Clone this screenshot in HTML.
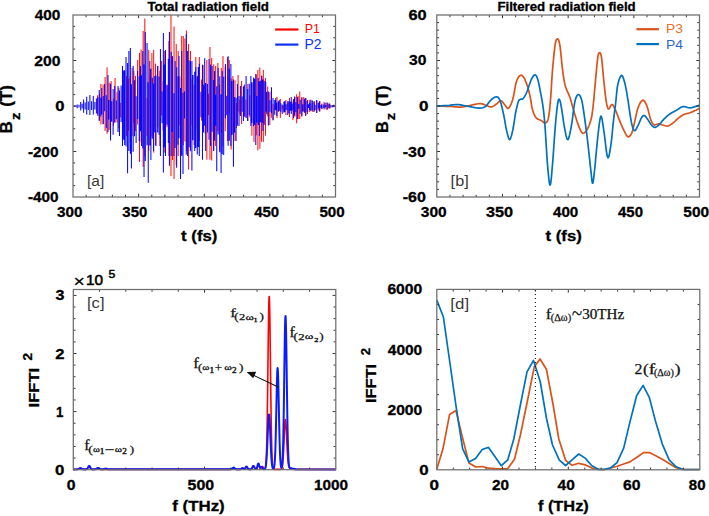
<!DOCTYPE html>
<html><head><meta charset="utf-8"><style>
html,body{margin:0;padding:0;background:#fff;width:709px;height:516px;overflow:hidden}
svg{display:block}
</style></head><body>
<svg width="709" height="516" viewBox="0 0 709 516"><polyline points="436.8,105.9 438.46,105.97 440.8,106.06 443.54,106.16 446.43,106.28 449.17,106.39 451.5,106.5 453.42,106.63 455.14,106.78 456.73,106.94 458.23,107.06 459.7,107.13 461.2,107.1 462.7,106.96 464.14,106.74 465.55,106.46 466.96,106.14 468.4,105.81 469.9,105.5 471.5,105.16 473.2,104.77 474.93,104.36 476.62,104 478.2,103.73 479.6,103.6 480.79,103.64 481.82,103.8 482.74,104.06 483.61,104.37 484.48,104.7 485.4,105 486.38,105.34 487.37,105.77 488.36,106.21 489.33,106.59 490.29,106.84 491.2,106.9 492.07,106.73 492.9,106.37 493.71,105.89 494.51,105.33 495.3,104.75 496.1,104.2 496.92,103.58 497.74,102.81 498.57,102.03 499.38,101.33 500.16,100.85 500.9,100.7 501.59,100.95 502.24,101.53 502.87,102.31 503.48,103.2 504.08,104.06 504.7,104.8 505.32,105.56 505.92,106.47 506.52,107.36 507.13,108.07 507.75,108.44 508.4,108.3 509.09,107.65 509.81,106.61 510.55,105.22 511.29,103.55 512.01,101.62 512.7,99.5 513.35,96.93 513.97,93.84 514.58,90.5 515.17,87.19 515.78,84.2 516.4,81.8 517.04,79.98 517.7,78.51 518.36,77.36 519.01,76.48 519.67,75.84 520.3,75.4 520.92,75.19 521.52,75.24 522.11,75.53 522.7,76.03 523.3,76.73 523.9,77.6 524.52,78.71 525.16,80.08 525.8,81.64 526.43,83.33 527.03,85.08 527.6,86.8 528.13,88.54 528.63,90.35 529.11,92.22 529.56,94.11 529.99,96.02 530.4,97.9 530.76,99.81 531.07,101.76 531.36,103.73 531.65,105.65 531.99,107.49 532.4,109.2 532.87,110.82 533.38,112.38 533.93,113.86 534.53,115.23 535.18,116.45 535.9,117.5 536.72,118.33 537.65,118.94 538.64,119.42 539.63,119.81 540.56,120.18 541.4,120.6 542.13,121.12 542.79,121.71 543.39,122.28 543.97,122.74 544.53,123.01 545.1,123 545.67,122.8 546.24,122.5 546.79,122 547.33,121.21 547.83,120.05 548.3,118.4 548.73,116.26 549.11,113.71 549.47,110.78 549.82,107.49 550.16,103.89 550.5,100 550.84,95.65 551.16,90.76 551.47,85.56 551.79,80.25 552.13,75.06 552.5,70.2 552.91,65.45 553.36,60.59 553.83,55.84 554.3,51.43 554.77,47.57 555.2,44.5 555.61,42.26 555.99,40.7 556.37,39.69 556.74,39.13 557.12,38.9 557.5,38.9 557.89,39.07 558.28,39.49 558.67,40.25 559.07,41.43 559.48,43.12 559.9,45.4 560.33,48.58 560.78,52.65 561.23,57.22 561.69,61.93 562.15,66.38 562.6,70.2 563.03,73.4 563.43,76.28 563.84,78.91 564.27,81.34 564.75,83.65 565.3,85.9 565.96,88 566.7,89.9 567.5,91.67 568.31,93.39 569.09,95.14 569.8,97 570.43,98.94 571,100.89 571.54,102.88 572.09,104.91 572.66,107.01 573.3,109.2 574,111.57 574.75,114.12 575.53,116.74 576.33,119.31 577.12,121.74 577.9,123.9 578.67,125.9 579.43,127.85 580.2,129.64 580.97,131.19 581.73,132.37 582.5,133.1 583.28,133.31 584.07,133.06 584.86,132.45 585.63,131.59 586.39,130.57 587.1,129.5 587.79,128.3 588.47,126.87 589.12,125.29 589.74,123.62 590.3,121.93 590.8,120.3 591.21,118.77 591.55,117.29 591.83,115.79 592.09,114.21 592.33,112.47 592.6,110.5 592.88,108.25 593.16,105.76 593.43,103.11 593.69,100.38 593.95,97.65 594.2,95 594.44,92.49 594.65,90.08 594.86,87.66 595.08,85.16 595.32,82.47 595.6,79.5 595.93,76 596.29,71.97 596.68,67.77 597.07,63.71 597.45,60.15 597.8,57.4 598.12,55.51 598.43,54.23 598.72,53.43 599.01,53 599.3,52.83 599.6,52.8 599.91,52.83 600.21,53 600.53,53.43 600.84,54.23 601.16,55.51 601.5,57.4 601.85,60.12 602.22,63.64 602.6,67.64 602.98,71.83 603.35,75.88 603.7,79.5 604.04,82.78 604.37,85.99 604.69,89.07 605,91.97 605.3,94.63 605.6,97 605.88,99.06 606.16,100.85 606.42,102.41 606.68,103.76 606.94,104.95 607.2,106 607.45,106.93 607.67,107.72 607.9,108.34 608.15,108.78 608.44,109 608.8,109 609.24,108.57 609.75,107.7 610.3,106.62 610.87,105.57 611.45,104.79 612,104.5 612.51,104.7 613,105.18 613.49,105.93 614,106.92 614.56,108.12 615.2,109.5 615.94,111.21 616.78,113.3 617.67,115.59 618.56,117.94 619.42,120.16 620.2,122.1 620.89,123.75 621.51,125.26 622.11,126.64 622.69,127.93 623.28,129.18 623.9,130.4 624.56,131.69 625.25,133.05 625.95,134.35 626.65,135.49 627.34,136.34 628,136.8 628.65,136.84 629.3,136.53 629.94,135.95 630.56,135.14 631.15,134.18 631.7,133.1 632.18,131.91 632.6,130.57 632.99,129.06 633.39,127.39 633.81,125.53 634.3,123.5 634.85,121.12 635.44,118.35 636.06,115.41 636.71,112.5 637.39,109.83 638.1,107.6 638.85,105.72 639.65,104 640.48,102.52 641.31,101.35 642.13,100.55 642.9,100.2 643.63,100.36 644.34,101.01 645.04,102.03 645.71,103.31 646.37,104.77 647,106.3 647.61,108.05 648.19,110.14 648.75,112.4 649.3,114.66 649.85,116.75 650.4,118.5 650.94,119.95 651.45,121.24 651.96,122.36 652.49,123.3 653.06,124.05 653.7,124.6 654.42,124.86 655.21,124.8 656.05,124.56 656.9,124.25 657.72,123.99 658.5,123.9 659.21,123.98 659.87,124.14 660.51,124.34 661.16,124.57 661.85,124.8 662.6,125 663.42,125.22 664.3,125.5 665.22,125.78 666.15,126 667.08,126.09 668,126 668.9,125.7 669.8,125.24 670.7,124.66 671.6,124 672.5,123.3 673.4,122.6 674.3,121.86 675.2,121.05 676.09,120.2 676.99,119.35 677.89,118.54 678.8,117.8 679.71,117.13 680.63,116.5 681.55,115.9 682.47,115.35 683.39,114.85 684.3,114.4 685.21,114.04 686.11,113.76 687.01,113.53 687.9,113.31 688.8,113.08 689.7,112.8 690.61,112.47 691.54,112.11 692.46,111.74 693.37,111.36 694.26,110.98 695.1,110.6 695.94,110.2 696.8,109.76 697.64,109.31 698.4,108.9 699.03,108.55 699.5,108.3" fill="none" stroke="#D95319" stroke-width="1.7" stroke-linejoin="round"/>
<polyline points="436.8,105.9 437.99,105.86 439.64,105.81 441.59,105.76 443.68,105.69 445.74,105.6 447.6,105.5 449.28,105.35 450.91,105.15 452.52,104.93 454.11,104.74 455.7,104.62 457.3,104.6 458.89,104.71 460.46,104.9 462.03,105.17 463.63,105.47 465.27,105.79 467,106.1 468.88,106.45 470.9,106.86 472.98,107.29 475.02,107.68 476.92,107.97 478.6,108.1 480.03,108.09 481.29,107.99 482.42,107.79 483.45,107.48 484.43,107.05 485.4,106.5 486.32,105.75 487.14,104.81 487.91,103.74 488.67,102.65 489.45,101.61 490.3,100.7 491.24,99.85 492.24,98.98 493.26,98.16 494.27,97.47 495.23,96.99 496.1,96.8 496.86,96.85 497.55,97.07 498.18,97.5 498.79,98.19 499.38,99.17 500,100.5 500.64,102.29 501.28,104.51 501.92,107.04 502.54,109.73 503.14,112.43 503.7,115 504.22,117.53 504.69,120.16 505.14,122.81 505.58,125.38 506.03,127.81 506.5,130 507,132.13 507.51,134.31 508.02,136.34 508.55,138.02 509.07,139.17 509.6,139.6 510.13,139.2 510.67,138.1 511.22,136.46 511.76,134.46 512.29,132.25 512.8,130 513.29,127.53 513.76,124.68 514.22,121.62 514.68,118.53 515.14,115.6 515.6,113 516.07,110.66 516.56,108.42 517.04,106.33 517.51,104.45 517.97,102.82 518.4,101.5 518.8,100.56 519.17,99.99 519.52,99.67 519.87,99.5 520.23,99.38 520.6,99.2 520.97,99.07 521.34,99.09 521.71,99.15 522.1,99.16 522.52,99.01 523,98.6 523.53,97.96 524.1,97.16 524.71,96.21 525.35,95.09 526.02,93.79 526.7,92.3 527.42,90.45 528.2,88.21 529,85.79 529.8,83.4 530.57,81.23 531.3,79.5 531.98,78.15 532.63,77.02 533.26,76.11 533.87,75.45 534.45,75.04 535,74.9 535.52,75.04 536,75.45 536.46,76.11 536.91,77.02 537.35,78.15 537.8,79.5 538.26,81.13 538.71,83.05 539.16,85.21 539.6,87.51 540.05,89.9 540.5,92.3 540.96,94.7 541.43,97.17 541.9,99.72 542.36,102.37 542.8,105.12 543.2,108 543.56,110.84 543.87,113.6 544.17,116.48 544.46,119.64 544.76,123.29 545.1,127.6 545.47,132.94 545.86,139.22 546.26,145.99 546.67,152.77 547.08,159.09 547.5,164.5 547.92,169.35 548.36,174.1 548.8,178.39 549.24,181.89 549.68,184.24 550.1,185.1 550.51,184.24 550.9,181.89 551.29,178.39 551.69,174.1 552.08,169.35 552.5,164.5 552.94,159.14 553.39,152.91 553.85,146.24 554.31,139.52 554.76,133.17 555.2,127.6 555.62,122.68 556.04,118.04 556.46,113.77 556.86,109.96 557.24,106.67 557.6,104 557.93,101.99 558.23,100.6 558.52,99.74 558.8,99.33 559.09,99.28 559.4,99.5 559.72,100.04 560.04,100.96 560.38,102.24 560.72,103.86 561.09,105.79 561.5,108 561.94,110.71 562.42,113.99 562.92,117.58 563.44,121.22 563.97,124.64 564.5,127.6 565.03,130.34 565.57,133.12 566.11,135.69 566.67,137.79 567.23,139.18 567.8,139.6 568.39,138.87 569.01,137.15 569.63,134.72 570.25,131.84 570.84,128.77 571.4,125.8 571.92,122.65 572.42,119.07 572.9,115.31 573.36,111.62 573.79,108.26 574.2,105.5 574.57,103.36 574.9,101.63 575.21,100.24 575.52,99.1 575.84,98.11 576.2,97.2 576.6,96.35 577.02,95.63 577.46,95.07 577.9,94.7 578.35,94.53 578.8,94.6 579.25,94.91 579.71,95.43 580.18,96.17 580.64,97.1 581.08,98.21 581.5,99.5 581.87,100.87 582.19,102.31 582.5,103.94 582.82,105.86 583.18,108.18 583.6,111 584.1,114.39 584.66,118.27 585.25,122.54 585.87,127.12 586.49,131.91 587.1,136.8 587.73,142.14 588.39,148.06 589.06,154.19 589.7,160.14 590.29,165.54 590.8,170 591.21,173.66 591.53,176.86 591.81,179.5 592.06,181.5 592.31,182.76 592.6,183.2 592.91,182.76 593.21,181.5 593.51,179.5 593.84,176.86 594.19,173.66 594.6,170 595.07,165.48 595.58,159.95 596.13,153.86 596.7,147.67 597.26,141.84 597.8,136.8 598.32,132.22 598.84,127.68 599.36,123.48 599.88,119.96 600.39,117.42 600.9,116.2 601.4,116.52 601.88,118.18 602.36,120.83 602.84,124.12 603.35,127.73 603.9,131.3 604.49,135.48 605.13,140.67 605.78,146.18 606.44,151.28 607.09,155.29 607.7,157.5 608.29,157.67 608.87,156.32 609.44,153.87 609.99,150.75 610.51,147.38 611,144.2 611.44,140.98 611.84,137.35 612.21,133.47 612.57,129.52 612.93,125.67 613.3,122.1 613.69,118.82 614.07,115.7 614.46,112.69 614.85,109.72 615.23,106.74 615.6,103.7 615.94,100.5 616.25,97.15 616.56,93.8 616.88,90.57 617.25,87.59 617.7,85 618.24,82.67 618.86,80.49 619.53,78.55 620.21,76.98 620.88,75.89 621.5,75.4 622.08,75.6 622.66,76.42 623.21,77.73 623.76,79.37 624.28,81.21 624.8,83.1 625.3,85.11 625.77,87.36 626.23,89.81 626.69,92.41 627.14,95.13 627.6,97.9 628.08,100.9 628.57,104.19 629.06,107.59 629.53,110.91 629.99,113.98 630.4,116.6 630.76,118.76 631.08,120.6 631.37,122.17 631.66,123.56 631.96,124.81 632.3,126 632.66,127.17 633.03,128.29 633.41,129.28 633.81,130.06 634.24,130.56 634.7,130.7 635.21,130.41 635.76,129.73 636.34,128.76 636.93,127.63 637.52,126.44 638.1,125.3 638.67,124.11 639.26,122.76 639.84,121.36 640.42,119.99 640.97,118.77 641.5,117.8 641.98,117.05 642.43,116.43 642.85,115.95 643.27,115.63 643.72,115.48 644.2,115.5 644.72,115.74 645.26,116.2 645.81,116.82 646.39,117.57 646.98,118.38 647.6,119.2 648.25,120.13 648.94,121.21 649.65,122.36 650.36,123.48 651.05,124.49 651.7,125.3 652.3,125.92 652.86,126.44 653.4,126.85 653.94,127.13 654.5,127.29 655.1,127.3 655.74,127.15 656.39,126.85 657.07,126.41 657.76,125.87 658.47,125.26 659.2,124.6 659.94,123.85 660.7,122.98 661.47,122.03 662.26,121.06 663.07,120.1 663.9,119.2 664.74,118.36 665.6,117.53 666.47,116.71 667.37,115.92 668.31,115.15 669.3,114.4 670.35,113.68 671.46,113 672.61,112.34 673.78,111.69 674.95,111.05 676.1,110.4 677.23,109.7 678.37,108.93 679.5,108.17 680.63,107.48 681.77,106.94 682.9,106.6 684.05,106.55 685.22,106.75 686.39,107.09 687.54,107.47 688.65,107.77 689.7,107.9 690.69,107.83 691.64,107.66 692.55,107.42 693.43,107.14 694.27,106.85 695.1,106.6 695.94,106.36 696.8,106.09 697.64,105.82 698.4,105.57 699.03,105.35 699.5,105.2" fill="none" stroke="#0072BD" stroke-width="1.7" stroke-linejoin="round"/>
<polyline points="436.8,469.3 443,448.6 449.6,414.4 456,410.6 461.9,435.3 468.9,462.9 475.8,467 482.2,466.5 488.5,468.2 495.2,468.6 501.5,468.8 507.6,468.8 514.5,459.3 520.1,436.3 527,403 534.2,367.1 540,359 546.4,369.2 552.8,403 558.8,439 565.6,460.3 572.1,465.3 578.7,463.3 585.2,464.8 591.8,468.1 598.3,469.5 604.3,469.5 610.5,468 617.2,466.2 623.7,464 629.9,461.9 637,457.3 643.5,452.6 649.4,452.6 655.3,455.4 662.3,459.3 669.2,463.5 676.1,467.8 682.7,469.5 699.5,469.5" fill="none" stroke="#D95319" stroke-width="1.7" stroke-linejoin="round"/>
<polyline points="436.8,300.1 443.4,317 450,363.5 456.3,408 462.6,448.6 468.9,462 475.6,458.4 482.2,449.5 488.5,447.4 494.9,456.5 501.3,465.7 507.8,459.8 513.8,439 520.4,405 527,371.9 533.5,360.4 540.2,381.5 546.5,418.5 552.5,445 559.3,460.2 565.6,465.5 572.1,459.8 578.7,454 585.2,458.1 591.8,465.8 598.3,469.3 604.3,469.3 610.5,468 617,462.6 623.7,448.1 629.6,423.4 636.6,395.7 643.1,385.4 649.4,397.7 655.3,420.4 662.3,444.1 669.2,459.9 676.1,466.8 682.7,469.3 699.5,469.5" fill="none" stroke="#0072BD" stroke-width="1.7" stroke-linejoin="round"/>
<line x1="535.4" y1="290" x2="535.4" y2="469.5" stroke="#111" stroke-width="1.1" stroke-dasharray="1.1 2.9"/>
<polyline points="73.3,469.4 77.05,469.37 77.3,469.35 77.55,469.31 77.8,469.26 78.05,469.19 78.3,469.1 78.55,468.99 78.8,468.85 79.05,468.7 79.3,468.55 79.55,468.41 79.8,468.3 80.05,468.23 80.3,468.2 80.55,468.23 80.8,468.3 81.05,468.41 81.3,468.55 81.55,468.7 81.8,468.85 82.05,468.99 82.3,469.1 82.55,469.19 82.8,469.26 83.05,469.31 83.3,469.35 83.55,469.37 85.55,469.36 85.8,469.33 86.05,469.27 86.3,469.19 86.55,469.08 86.8,468.92 87.05,468.71 87.3,468.45 87.55,468.15 87.8,467.82 88.05,467.5 88.3,467.21 88.55,466.98 88.8,466.84 89.05,466.8 89.3,466.88 89.55,467.06 89.8,467.32 90.05,467.63 90.3,467.95 90.55,468.27 90.8,468.56 91.05,468.8 91.3,468.99 91.55,469.13 91.8,469.23 92.05,469.3 92.3,469.34 92.55,469.37 94.8,469.36 95.05,469.33 95.3,469.29 95.55,469.23 95.8,469.15 96.05,469.05 96.3,468.94 96.55,468.82 96.8,468.69 97.05,468.58 97.3,468.48 97.55,468.42 97.8,468.4 98.05,468.42 98.3,468.48 98.55,468.58 98.8,468.69 99.05,468.82 99.3,468.94 99.55,469.05 99.8,469.15 100.05,469.23 100.3,469.29 100.55,469.33 100.8,469.36 230.3,469.37 230.55,469.35 230.8,469.31 231.05,469.26 231.3,469.19 231.55,469.1 231.8,468.98 232.05,468.84 232.3,468.68 232.55,468.51 232.8,468.36 233.05,468.23 233.3,468.14 233.55,468.1 233.8,468.12 234.05,468.19 234.3,468.3 234.55,468.45 234.8,468.61 235.05,468.77 235.3,468.92 235.55,469.05 235.8,469.16 236.05,469.24 236.3,469.3 236.55,469.34 236.8,469.36 239.8,469.37 240.05,469.34 240.3,469.29 240.55,469.22 240.8,469.12 241.05,468.98 241.3,468.82 241.55,468.64 241.8,468.46 242.05,468.32 242.3,468.22 242.55,468.2 242.8,468.25 243.05,468.36 243.3,468.51 243.55,468.66 243.8,468.8 244.05,468.87 244.3,468.88 244.55,468.78 244.8,468.59 245.05,468.31 245.3,467.96 245.55,467.58 245.8,467.22 246.05,466.95 246.3,466.81 246.55,466.83 246.8,467 247.05,467.3 247.3,467.67 247.55,468.06 247.8,468.42 248.05,468.73 248.3,468.97 248.55,469.14 248.8,469.25 249.05,469.32 249.3,469.36 250.3,469.37 250.55,469.34 250.8,469.28 251.05,469.19 251.3,469.03 251.55,468.79 251.8,468.45 252.05,468.03 252.3,467.54 252.55,467.03 252.8,466.56 253.05,466.2 253.3,466.02 253.55,466.04 253.8,466.26 254.05,466.65 254.3,467.13 254.55,467.64 254.8,468.12 255.05,468.51 255.3,468.8 255.55,468.97 255.8,469.03 256.05,468.98 256.3,468.81 256.55,468.51 256.8,468.09 257.05,467.56 257.3,466.97 257.55,466.38 257.8,465.87 258.05,465.52 258.3,465.4 258.55,465.52 258.8,465.86 259.05,466.37 259.3,466.94 259.55,467.5 259.8,467.97 260.05,468.3 260.3,468.45 260.55,468.43 260.8,468.25 261.05,467.94 261.3,467.54 261.55,467.12 261.8,466.74 262.05,466.49 262.3,466.4 262.55,466.49 262.8,466.75 263.05,467.13 263.3,467.58 263.55,468.02 263.8,468.41 264.05,468.72 264.3,468.91 264.55,468.99 264.8,468.91 265.05,468.63 265.3,468.03 265.55,466.94 265.8,465.1 266.05,462.15 266.3,457.64 266.55,451.06 266.8,441.93 267.05,429.87 267.3,414.75 267.55,396.8 267.8,376.74 268.05,355.77 268.3,335.52 268.55,317.84 268.8,304.56 269.05,297.14 269.3,296.45 269.55,302.57 269.8,314.78 270.05,331.71 270.3,351.6 270.55,372.57 270.8,392.92 271.05,411.37 271.3,427.09 271.55,439.76 271.8,449.46 272.05,456.5 272.3,461.39 272.55,464.62 272.8,466.66 273.05,467.89 273.3,468.6 273.55,468.99 273.8,469.2 274.05,469.31 274.3,469.36 280.55,469.35 280.8,469.3 281.05,469.21 281.3,469.05 281.55,468.78 281.8,468.32 282.05,467.59 282.3,466.49 282.55,464.88 282.8,462.63 283.05,459.64 283.3,455.84 283.55,451.24 283.8,445.96 284.05,440.24 284.3,434.45 284.55,429.02 284.8,424.45 285.05,421.18 285.3,419.54 285.55,419.71 285.8,421.67 286.05,425.2 286.3,429.92 286.55,435.37 286.8,441.05 287.05,446.53 287.3,451.49 287.55,455.71 287.8,459.13 288.05,461.78 288.3,463.77 288.55,465.23 288.8,466.3 289.05,467.09 289.3,467.67 289.55,468.08 289.8,468.36 290.05,468.52 290.3,468.58 290.55,468.56 290.8,468.5 291.05,468.43 291.3,468.39 291.55,468.39 291.8,468.44 292.05,468.54 292.3,468.67 292.55,468.82 292.8,468.97 293.05,469.1 293.3,469.2 293.55,469.28 293.8,469.33 294.05,469.36 335.8,469.4" fill="none" stroke="#ff0000" stroke-width="1.6" stroke-linejoin="round"/>
<polyline points="73.3,469.4 77.3,469.36 77.55,469.34 77.8,469.3 78.05,469.24 78.3,469.16 78.55,469.05 78.8,468.92 79.05,468.77 79.3,468.61 79.55,468.45 79.8,468.3 80.05,468.19 80.3,468.12 80.55,468.1 80.8,468.14 81.05,468.23 81.3,468.36 81.55,468.51 81.8,468.68 82.05,468.84 82.3,468.98 82.55,469.1 82.8,469.19 83.05,469.26 83.3,469.31 83.55,469.35 83.8,469.37 85.8,469.37 86.05,469.34 86.3,469.29 86.55,469.21 86.8,469.08 87.05,468.88 87.3,468.61 87.55,468.26 87.8,467.84 88.05,467.37 88.3,466.9 88.55,466.46 88.8,466.12 89.05,465.93 89.3,465.91 89.55,466.07 89.8,466.38 90.05,466.8 90.3,467.28 90.55,467.75 90.8,468.18 91.05,468.55 91.3,468.83 91.55,469.04 91.8,469.19 92.05,469.28 92.3,469.33 92.55,469.37 94.8,469.36 95.05,469.33 95.3,469.29 95.55,469.23 95.8,469.14 96.05,469.03 96.3,468.89 96.55,468.73 96.8,468.55 97.05,468.38 97.3,468.22 97.55,468.1 97.8,468.02 98.05,468 98.3,468.04 98.55,468.14 98.8,468.28 99.05,468.45 99.3,468.62 99.55,468.79 99.8,468.95 100.05,469.07 100.3,469.18 100.55,469.25 100.8,469.31 101.05,469.34 101.3,469.37 102.55,469.36 102.8,469.34 103.05,469.31 103.3,469.27 103.55,469.22 103.8,469.16 104.05,469.08 104.3,468.99 104.55,468.9 104.8,468.8 105.05,468.72 105.3,468.66 105.55,468.61 105.8,468.6 106.05,468.61 106.3,468.66 106.55,468.72 106.8,468.8 107.05,468.9 107.3,468.99 107.55,469.08 107.8,469.16 108.05,469.22 108.3,469.27 108.55,469.31 108.8,469.34 109.05,469.36 230.3,469.36 230.55,469.33 230.8,469.28 231.05,469.21 231.3,469.11 231.55,468.98 231.8,468.82 232.05,468.62 232.3,468.4 232.55,468.17 232.8,467.96 233.05,467.78 233.3,467.66 233.55,467.6 233.8,467.62 234.05,467.72 234.3,467.88 234.55,468.08 234.8,468.31 235.05,468.53 235.3,468.74 235.55,468.92 235.8,469.06 236.05,469.18 236.3,469.26 236.55,469.31 236.8,469.35 237.05,469.37 239.8,469.37 240.05,469.34 240.3,469.28 240.55,469.21 240.8,469.09 241.05,468.95 241.3,468.77 241.55,468.57 241.8,468.38 242.05,468.22 242.3,468.13 242.55,468.1 242.8,468.15 243.05,468.27 243.3,468.43 243.55,468.6 243.8,468.75 244.05,468.83 244.3,468.83 244.55,468.74 244.8,468.53 245.05,468.22 245.3,467.85 245.55,467.44 245.8,467.06 246.05,466.76 246.3,466.61 246.55,466.63 246.8,466.82 247.05,467.13 247.3,467.53 247.55,467.95 247.8,468.35 248.05,468.68 248.3,468.94 248.55,469.12 248.8,469.24 249.05,469.32 249.3,469.36 250.3,469.37 250.55,469.34 250.8,469.28 251.05,469.18 251.3,469.01 251.55,468.77 251.8,468.43 252.05,467.99 252.3,467.49 252.55,466.96 252.8,466.48 253.05,466.11 253.3,465.92 253.55,465.94 253.8,466.17 254.05,466.57 254.3,467.07 254.55,467.59 254.8,468.08 255.05,468.5 255.3,468.81 255.55,469.01 255.8,469.11 256.05,469.1 256.3,468.95 256.55,468.65 256.8,468.15 257.05,467.45 257.3,466.56 257.55,465.56 257.8,464.59 258.05,463.84 258.3,463.43 258.55,463.47 258.8,463.94 259.05,464.72 259.3,465.63 259.55,466.51 259.8,467.19 260.05,467.6 260.3,467.73 260.55,467.62 260.8,467.38 261.05,467.12 261.3,466.93 261.55,466.89 261.8,467.03 262.05,467.32 262.3,467.72 262.55,468.13 262.8,468.52 263.05,468.83 263.3,469.05 263.55,469.2 263.8,469.27 264.05,469.29 264.3,469.25 264.55,469.15 264.8,468.96 265.05,468.64 265.3,468.11 265.55,467.3 265.8,466.09 266.05,464.35 266.3,461.96 266.55,458.8 266.8,454.82 267.05,450.02 267.3,444.51 267.55,438.51 267.8,432.35 268.05,426.46 268.3,421.32 268.55,417.37 268.8,415 269.05,414.44 269.3,415.74 269.55,418.78 269.8,423.26 270.05,428.76 270.3,434.81 270.55,440.95 270.8,446.79 271.05,452.04 271.3,456.52 271.55,460.16 271.8,463 272.05,465.11 272.3,466.62 272.55,467.64 272.8,468.29 273.05,468.65 273.3,468.78 273.55,468.68 273.8,468.3 274.05,467.55 274.3,466.26 274.55,464.22 274.8,461.14 275.05,456.73 275.3,450.72 275.55,442.95 275.8,433.41 276.05,422.35 276.3,410.3 276.55,398.07 276.8,386.7 277.05,377.26 277.3,370.78 277.55,367.98 277.8,369.19 278.05,374.27 278.3,382.63 278.55,393.36 278.8,405.38 279.05,417.61 279.3,429.14 279.55,439.34 279.8,447.83 280.05,454.52 280.3,459.53 280.55,463.07 280.8,465.44 281.05,466.88 281.3,467.59 281.55,467.67 281.8,467.12 282.05,465.82 282.3,463.52 282.55,459.88 282.8,454.49 283.05,446.91 283.3,436.78 283.55,423.94 283.8,408.52 284.05,391.07 284.3,372.57 284.55,354.4 284.8,338.17 285.05,325.52 285.3,317.83 285.55,315.97 285.8,320.17 286.05,329.9 286.3,344.06 286.55,361.12 286.8,379.42 287.05,397.42 287.3,413.9 287.55,428.1 287.8,439.67 288.05,448.64 288.3,455.29 288.55,460.01 288.8,463.25 289.05,465.39 289.3,466.73 289.55,467.53 289.8,467.96 290.05,468.14 290.3,468.19 290.55,468.17 290.8,468.15 291.05,468.16 291.3,468.22 291.55,468.33 291.8,468.47 292.05,468.62 292.3,468.74 292.55,468.83 292.8,468.87 293.05,468.87 293.3,468.85 293.55,468.81 293.8,468.79 294.05,468.79 294.3,468.82 294.55,468.88 294.8,468.96 295.05,469.05 295.3,469.14 295.55,469.22 295.8,469.28 296.05,469.33 296.3,469.36 335.8,469.4" fill="none" stroke="#0a1cff" stroke-width="2.0" stroke-linejoin="round"/>
<path d="M97.62 95.26V114.18M99.34 94.00V120.00M100.95 84.00V124.40M103.08 84.50V124.39M105.12 77.00V131.00M107.03 67.40V133.80M109.18 82.55V130.00M111.12 81.00V121.39M113.40 98.70V126.00M115.07 78.00V122.28M117.01 92.18V122.27M118.90 88.00V128.00M120.68 102.74V117.43M122.65 81.00V134.00M124.34 82.05V127.57M126.48 76.00V136.00M128.68 78.66V130.74M130.28 76.00V142.30M132.15 68.00V136.00M133.87 70.67V123.00M135.44 75.87V131.00M137.66 60.00V124.58M139.50 53.00V162.00M141.12 49.50V142.38M143.16 31.00V166.70M144.82 18.50V156.40M147.04 98.21V135.93M148.72 50.00V151.00M150.24 76.51V146.00M151.90 53.00V136.22M153.68 50.00V152.60M155.55 63.65V145.00M157.78 66.00V127.47M159.84 70.81V146.00M161.61 61.00V115.50M163.12 81.28V130.59M164.75 51.00V152.60M167.05 84.62V127.18M168.91 41.00V156.00M170.97 15.00V176.00M172.51 57.29V159.93M174.04 26.50V179.00M176.22 44.00V164.80M178.19 51.00V156.00M179.93 76.35V125.45M181.69 36.00V156.00M183.26 36.00V145.09M184.90 38.48V141.47M186.42 30.50V151.00M188.59 43.96V169.50M190.46 51.00V147.64M192.06 79.10V125.19M194.15 84.52V145.00M195.81 57.00V128.60M197.36 75.75V141.00M199.34 57.00V141.00M201.55 79.47V120.67M203.08 65.00V129.46M205.22 85.77V133.80M206.87 60.00V159.70M208.45 93.75V115.15M209.96 47.00V159.70M211.70 58.00V160.50M213.78 64.34V150.30M215.67 66.00V146.00M217.85 63.00V131.32M219.53 84.57V151.00M221.28 68.00V132.76M222.99 56.00V146.00M225.27 66.69V131.29M227.52 57.00V141.00M229.29 60.00V113.23M231.14 78.34V149.60M232.89 76.00V133.95M234.99 80.30V141.00M236.52 102.93V127.90M238.08 75.00V111.49M239.90 99.62V113.30M241.60 81.00V124.00M243.77 86.00V115.52M245.87 99.50V117.00M247.80 84.00V121.00M249.83 95.52V117.28M251.89 82.00V135.70M254.01 80.00V141.90M256.25 74.54V135.29M257.87 70.00V150.40M259.87 67.50V148.80M261.49 75.47V141.70M263.34 70.00V141.90M265.47 78.00V135.70M267.69 86.50V116.26M269.80 92.34V125.00M271.32 91.00V117.77M273.11 103.91V120.20M274.74 104.69V109.40M277.04 97.00V118.00M278.66 101.92V111.70M280.35 99.00V117.80M282.14 105.34V108.77M283.69 105.37V111.52M285.88 100.00V115.00M287.89 103.58V109.87M289.52 98.00V117.00M291.42 101.76V110.63M292.98 101.48V120.20M294.97 97.00V116.59M296.65 94.30V123.30M298.19 96.17V119.05M299.78 91.50V119.00M301.72 97.34V115.82M303.73 97.00V111.63M305.49 98.00V116.00M307.51 99.96V113.98M309.29 99.83V112.18M310.89 104.29V111.25M312.64 100.83V111.77M314.46 101.18V110.78M316.69 100.00V113.00M318.28 102.71V110.41M319.85 101.11V111.43M321.80 103.59V108.70M324.07 102.05V109.48M326.30 102.50V109.80M328.36 104.22V108.05M329.91 103.72V108.64M332.06 105.46V107.22M334.10 104.98V106.93" stroke="#ff0a0a" stroke-width="1.0" fill="none"/>
<path d="M74.50 105.40V106.80M75.85 105.55V106.70M77.20 104.60V108.30M78.95 104.78V107.51M80.70 102.00V110.40M82.15 103.64V108.52M83.60 99.50V112.80M85.15 102.44V109.47M86.70 96.70V114.60M88.30 101.43V109.96M89.90 95.00V115.00M91.60 101.28V109.96M93.30 96.00V114.60M94.85 102.06V109.62M96.40 98.50V113.50M97.81 97.23V115.79M99.26 90.00V121.00M100.81 97.71V116.39M101.77 88.00V114.58M103.24 95.98V124.00M104.63 84.00V111.34M106.26 95.15V128.00M107.96 75.00V131.90M108.92 100.02V119.39M110.53 83.69V140.40M111.68 101.26V121.84M113.13 88.91V134.80M114.70 86.00V122.83M116.32 100.39V119.20M118.03 86.00V132.00M119.48 90.53V136.00M121.12 85.52V122.11M122.47 66.00V146.00M123.61 70.38V139.63M124.68 70.21V145.00M126.03 57.00V146.39M127.58 63.05V173.30M128.89 51.00V151.00M130.38 48.00V153.78M131.43 84.14V168.60M133.16 66.00V151.70M134.49 80.14V136.14M136.10 96.33V143.00M137.63 71.00V119.02M139.21 76.22V141.00M140.47 66.00V131.26M141.50 75.23V146.00M142.82 51.00V148.42M144.03 64.17V177.00M145.30 32.00V161.00M147.05 43.00V145.26M148.24 82.34V182.70M149.82 61.00V145.27M150.90 68.83V160.00M152.33 77.75V138.63M153.55 83.51V151.00M154.70 76.00V132.49M155.96 75.54V146.00M157.66 66.00V132.51M159.07 76.50V134.95M160.44 49.00V156.00M162.03 91.40V123.37M163.38 33.00V172.40M164.42 64.42V147.18M165.48 49.95V156.00M167.00 85.28V124.67M168.33 58.77V143.08M169.44 32.00V165.80M171.17 51.63V156.00M172.33 56.00V132.09M173.91 93.19V156.00M175.11 61.00V148.06M176.66 67.24V167.70M178.03 76.23V144.81M179.01 56.00V138.35M180.53 87.92V179.00M181.72 51.00V155.41M183.01 92.82V174.00M184.53 91.19V118.61M186.28 34.00V154.50M187.59 51.00V156.00M189.08 60.37V147.17M190.41 61.31V151.17M191.90 61.00V170.50M192.97 75.09V140.20M194.72 71.70V151.00M195.78 67.00V147.89M197.27 76.50V154.50M198.27 66.98V146.91M199.29 64.00V156.00M200.94 91.77V117.33M202.49 64.86V159.70M203.52 84.64V132.44M204.69 58.30V125.68M205.70 82.92V151.00M207.40 84.07V132.43M209.02 59.00V139.78M210.59 64.44V146.00M212.10 66.00V131.66M213.59 79.88V151.00M214.57 71.00V140.77M215.56 94.64V125.85M216.75 86.36V171.30M218.17 68.00V134.40M219.78 76.19V152.19M221.08 94.16V172.90M222.23 71.00V154.33M223.69 76.81V155.00M225.40 64.00V118.30M226.74 95.73V115.22M228.14 56.20V145.70M229.32 68.73V140.67M230.87 64.00V146.00M231.94 81.01V134.92M233.43 79.50V166.70M234.55 97.08V132.80M236.04 97.65V141.00M237.39 84.00V125.75M239.00 96.02V126.00M240.41 86.00V115.96M242.08 96.43V111.81M243.39 87.11V121.00M244.36 84.62V116.82M246.09 76.00V117.92M247.65 88.93V121.00M249.26 83.78V115.33M250.87 76.00V126.00M251.92 82.57V122.71M253.57 77.40V126.25M254.59 78.69V124.71M255.79 74.00V145.00M256.86 96.07V122.78M258.20 78.00V125.11M259.30 81.48V136.00M260.42 80.82V122.14M261.83 76.00V122.81M262.91 79.39V131.00M264.25 80.86V124.66M265.75 82.00V111.52M266.72 92.02V114.28M268.37 91.62V125.60M269.93 100.29V111.68M271.48 87.20V113.33M273.01 97.95V120.20M274.73 100.12V114.80M275.79 98.00V110.37M276.81 102.58V116.00M278.35 101.35V111.43M279.31 100.00V110.83M280.77 103.06V111.85M282.22 104.56V114.00M283.91 101.73V112.87M284.94 101.00V111.89M286.17 104.23V110.11M287.72 101.30V115.00M288.95 101.19V113.57M290.14 101.69V110.79M291.23 97.10V114.04M292.20 103.87V110.55M293.57 98.89V118.00M294.57 96.40V115.52M295.90 102.08V112.15M297.43 97.00V119.00M298.72 104.04V108.67M300.15 99.76V113.78M301.87 97.50V116.50M302.96 104.16V111.54M304.43 98.86V112.83M305.91 98.00V115.50M307.27 101.10V111.71M308.49 104.35V107.95M309.57 102.73V109.89M310.82 99.73V110.85M312.22 100.42V110.43M313.94 101.80V111.92M315.11 104.64V110.13M316.75 100.00V113.00M318.33 102.77V108.45M319.57 101.37V111.38M320.98 104.93V108.36M321.95 104.46V109.23M323.69 104.49V108.09M325.03 102.83V108.72M326.11 105.19V107.09M327.69 102.50V109.80M329.34 103.52V108.18M330.88 105.00V107.58M332.61 105.22V107.23M333.79 104.84V107.36" stroke="#0808ff" stroke-width="1.05" fill="none"/>
<path d="M86.12 197v-2.2M86.12 15v2.2M99.25 197v-2.2M99.25 15v2.2M112.38 197v-2.2M112.38 15v2.2M125.5 197v-2.2M125.5 15v2.2M138.62 197v-3.2M138.62 15v3.2M151.75 197v-2.2M151.75 15v2.2M164.88 197v-2.2M164.88 15v2.2M178 197v-2.2M178 15v2.2M191.12 197v-2.2M191.12 15v2.2M204.25 197v-3.2M204.25 15v3.2M217.38 197v-2.2M217.38 15v2.2M230.5 197v-2.2M230.5 15v2.2M243.62 197v-2.2M243.62 15v2.2M256.75 197v-2.2M256.75 15v2.2M269.88 197v-3.2M269.88 15v3.2M283 197v-2.2M283 15v2.2M296.12 197v-2.2M296.12 15v2.2M309.25 197v-2.2M309.25 15v2.2M322.38 197v-2.2M322.38 15v2.2M73 185.62h2.2M335.5 185.62h-2.2M73 174.25h2.2M335.5 174.25h-2.2M73 162.88h2.2M335.5 162.88h-2.2M73 151.5h3.2M335.5 151.5h-3.2M73 140.12h2.2M335.5 140.12h-2.2M73 128.75h2.2M335.5 128.75h-2.2M73 117.38h2.2M335.5 117.38h-2.2M73 106h3.2M335.5 106h-3.2M73 94.62h2.2M335.5 94.62h-2.2M73 83.25h2.2M335.5 83.25h-2.2M73 71.88h2.2M335.5 71.88h-2.2M73 60.5h3.2M335.5 60.5h-3.2M73 49.12h2.2M335.5 49.12h-2.2M73 37.75h2.2M335.5 37.75h-2.2M73 26.38h2.2M335.5 26.38h-2.2" stroke="#333" stroke-width="1" fill="none"/>
<rect x="73" y="15" width="262.5" height="182" fill="none" stroke="#6e6e6e" stroke-width="1.25"/>
<path d="M449.94 197v-2.2M449.94 15v2.2M463.07 197v-2.2M463.07 15v2.2M476.2 197v-2.2M476.2 15v2.2M489.34 197v-2.2M489.34 15v2.2M502.48 197v-3.2M502.48 15v3.2M515.61 197v-2.2M515.61 15v2.2M528.75 197v-2.2M528.75 15v2.2M541.88 197v-2.2M541.88 15v2.2M555.01 197v-2.2M555.01 15v2.2M568.15 197v-3.2M568.15 15v3.2M581.29 197v-2.2M581.29 15v2.2M594.42 197v-2.2M594.42 15v2.2M607.56 197v-2.2M607.56 15v2.2M620.69 197v-2.2M620.69 15v2.2M633.83 197v-3.2M633.83 15v3.2M646.96 197v-2.2M646.96 15v2.2M660.1 197v-2.2M660.1 15v2.2M673.23 197v-2.2M673.23 15v2.2M686.37 197v-2.2M686.37 15v2.2M436.8 189.42h2.2M699.5 189.42h-2.2M436.8 181.83h2.2M699.5 181.83h-2.2M436.8 174.25h2.2M699.5 174.25h-2.2M436.8 166.67h2.2M699.5 166.67h-2.2M436.8 159.08h2.2M699.5 159.08h-2.2M436.8 151.5h3.2M699.5 151.5h-3.2M436.8 143.92h2.2M699.5 143.92h-2.2M436.8 136.33h2.2M699.5 136.33h-2.2M436.8 128.75h2.2M699.5 128.75h-2.2M436.8 121.17h2.2M699.5 121.17h-2.2M436.8 113.58h2.2M699.5 113.58h-2.2M436.8 106h3.2M699.5 106h-3.2M436.8 98.42h2.2M699.5 98.42h-2.2M436.8 90.83h2.2M699.5 90.83h-2.2M436.8 83.25h2.2M699.5 83.25h-2.2M436.8 75.67h2.2M699.5 75.67h-2.2M436.8 68.08h2.2M699.5 68.08h-2.2M436.8 60.5h3.2M699.5 60.5h-3.2M436.8 52.92h2.2M699.5 52.92h-2.2M436.8 45.33h2.2M699.5 45.33h-2.2M436.8 37.75h2.2M699.5 37.75h-2.2M436.8 30.17h2.2M699.5 30.17h-2.2M436.8 22.58h2.2M699.5 22.58h-2.2" stroke="#333" stroke-width="1" fill="none"/>
<rect x="436.8" y="15" width="262.7" height="182" fill="none" stroke="#6e6e6e" stroke-width="1.25"/>
<path d="M99.55 469.7v-2.2M99.55 289.5v2.2M125.8 469.7v-2.2M125.8 289.5v2.2M152.05 469.7v-2.2M152.05 289.5v2.2M178.3 469.7v-2.2M178.3 289.5v2.2M204.55 469.7v-3.2M204.55 289.5v3.2M230.8 469.7v-2.2M230.8 289.5v2.2M257.05 469.7v-2.2M257.05 289.5v2.2M283.3 469.7v-2.2M283.3 289.5v2.2M309.55 469.7v-2.2M309.55 289.5v2.2M73.3 458.08h2.2M335.8 458.08h-2.2M73.3 446.46h2.2M335.8 446.46h-2.2M73.3 434.84h2.2M335.8 434.84h-2.2M73.3 423.22h2.2M335.8 423.22h-2.2M73.3 411.6h3.2M335.8 411.6h-3.2M73.3 399.98h2.2M335.8 399.98h-2.2M73.3 388.36h2.2M335.8 388.36h-2.2M73.3 376.74h2.2M335.8 376.74h-2.2M73.3 365.12h2.2M335.8 365.12h-2.2M73.3 353.5h3.2M335.8 353.5h-3.2M73.3 341.88h2.2M335.8 341.88h-2.2M73.3 330.26h2.2M335.8 330.26h-2.2M73.3 318.64h2.2M335.8 318.64h-2.2M73.3 307.02h2.2M335.8 307.02h-2.2M73.3 295.4h3.2M335.8 295.4h-3.2" stroke="#333" stroke-width="1" fill="none"/>
<rect x="73.3" y="289.5" width="262.5" height="180.2" fill="none" stroke="#6e6e6e" stroke-width="1.25"/>
<path d="M453.24 469.8v-2.2M453.24 289.4v2.2M469.68 469.8v-2.2M469.68 289.4v2.2M486.11 469.8v-2.2M486.11 289.4v2.2M502.55 469.8v-3.2M502.55 289.4v3.2M518.99 469.8v-2.2M518.99 289.4v2.2M535.42 469.8v-2.2M535.42 289.4v2.2M551.86 469.8v-2.2M551.86 289.4v2.2M568.3 469.8v-3.2M568.3 289.4v3.2M584.74 469.8v-2.2M584.74 289.4v2.2M601.17 469.8v-2.2M601.17 289.4v2.2M617.61 469.8v-2.2M617.61 289.4v2.2M634.05 469.8v-3.2M634.05 289.4v3.2M650.49 469.8v-2.2M650.49 289.4v2.2M666.92 469.8v-2.2M666.92 289.4v2.2M683.36 469.8v-2.2M683.36 289.4v2.2M436.8 454.77h2.2M699.8 454.77h-2.2M436.8 439.73h2.2M699.8 439.73h-2.2M436.8 424.7h2.2M699.8 424.7h-2.2M436.8 409.67h3.2M699.8 409.67h-3.2M436.8 394.63h2.2M699.8 394.63h-2.2M436.8 379.6h2.2M699.8 379.6h-2.2M436.8 364.57h2.2M699.8 364.57h-2.2M436.8 349.53h3.2M699.8 349.53h-3.2M436.8 334.5h2.2M699.8 334.5h-2.2M436.8 319.47h2.2M699.8 319.47h-2.2M436.8 304.43h2.2M699.8 304.43h-2.2" stroke="#333" stroke-width="1" fill="none"/>
<rect x="436.8" y="289.4" width="263" height="180.4" fill="none" stroke="#6e6e6e" stroke-width="1.25"/>
<text x="147.45" y="11" font-family='"Liberation Sans", sans-serif' font-weight="bold" font-size="12.6" fill="#000" textLength="121.52" lengthAdjust="spacingAndGlyphs" stroke="#000" stroke-width="0.3">Total radiation field</text>
<text x="497.41" y="11" font-family='"Liberation Sans", sans-serif' font-weight="bold" font-size="12.6" fill="#000" textLength="138.26" lengthAdjust="spacingAndGlyphs" stroke="#000" stroke-width="0.3">Filtered radiation field</text>
<text x="34.67" y="20.46" font-family='"Liberation Sans", sans-serif' font-weight="bold" font-size="14.27" fill="#000" textLength="25.66" lengthAdjust="spacingAndGlyphs" stroke="#000" stroke-width="0.3">400</text>
<text x="34.36" y="65.76" font-family='"Liberation Sans", sans-serif' font-weight="bold" font-size="14.83" fill="#000" textLength="26.19" lengthAdjust="spacingAndGlyphs" stroke="#000" stroke-width="0.3">200</text>
<text x="55.24" y="111.26" font-family='"Liberation Sans", sans-serif' font-weight="bold" font-size="14.41" fill="#000" textLength="9.24" lengthAdjust="spacingAndGlyphs" stroke="#000" stroke-width="0.3">0</text>
<text x="27.9" y="157.26" font-family='"Liberation Sans", sans-serif' font-weight="bold" font-size="14.69" fill="#000" textLength="30.52" lengthAdjust="spacingAndGlyphs" stroke="#000" stroke-width="0.3">-200</text>
<text x="27.9" y="202.46" font-family='"Liberation Sans", sans-serif' font-weight="bold" font-size="14.55" fill="#000" textLength="30.52" lengthAdjust="spacingAndGlyphs" stroke="#000" stroke-width="0.3">-400</text>
<text x="56.95" y="217.04" font-family='"Liberation Sans", sans-serif' font-weight="bold" font-size="14.66" fill="#000" textLength="25.48" lengthAdjust="spacingAndGlyphs" stroke="#000" stroke-width="0.3">300</text>
<text x="122.36" y="217.04" font-family='"Liberation Sans", sans-serif' font-weight="bold" font-size="14.66" fill="#000" textLength="24.96" lengthAdjust="spacingAndGlyphs" stroke="#000" stroke-width="0.3">350</text>
<text x="187.87" y="217.06" font-family='"Liberation Sans", sans-serif' font-weight="bold" font-size="14.69" fill="#000" textLength="25.15" lengthAdjust="spacingAndGlyphs" stroke="#000" stroke-width="0.3">400</text>
<text x="254.17" y="217.06" font-family='"Liberation Sans", sans-serif' font-weight="bold" font-size="14.69" fill="#000" textLength="25.04" lengthAdjust="spacingAndGlyphs" stroke="#000" stroke-width="0.3">450</text>
<text x="319.43" y="217.06" font-family='"Liberation Sans", sans-serif' font-weight="bold" font-size="14.69" fill="#000" textLength="25.29" lengthAdjust="spacingAndGlyphs" stroke="#000" stroke-width="0.3">500</text>
<text x="181.1" y="241.4" font-family='"Liberation Sans", sans-serif' font-weight="bold" font-size="15.5" fill="#000" textLength="36.24" lengthAdjust="spacingAndGlyphs" stroke="#000" stroke-width="0.3">t (fs)</text>
<text transform="rotate(-90)" x="-133.54" y="12.2" font-family='"Liberation Sans", sans-serif' font-weight="bold" font-size="16" fill="#000" stroke="#000" stroke-width="0.3" textLength="12.32" lengthAdjust="spacingAndGlyphs">B</text>
<text transform="rotate(-90)" x="-120.1" y="20" font-family='"Liberation Sans", sans-serif' font-weight="bold" font-size="12" fill="#000" stroke="#000" stroke-width="0.3" textLength="7.43" lengthAdjust="spacingAndGlyphs">z</text>
<text transform="rotate(-90)" x="-106.85" y="12.2" font-family='"Liberation Sans", sans-serif' font-weight="bold" font-size="16" fill="#000" stroke="#000" stroke-width="0.3" textLength="21.69" lengthAdjust="spacingAndGlyphs">(T)</text>
<polyline points="275.2,29.5 298.4,29.5" fill="none" stroke="#ff0000" stroke-width="2.2" stroke-linejoin="round"/>
<polyline points="275.2,44.6 298.4,44.6" fill="none" stroke="#1030ff" stroke-width="2.2" stroke-linejoin="round"/>
<text x="304.68" y="32.8" font-family='"Liberation Sans", sans-serif' font-weight="normal" font-size="13.08" fill="#ff0000" textLength="15.23" lengthAdjust="spacingAndGlyphs">P1</text>
<text x="304.56" y="48.9" font-family='"Liberation Sans", sans-serif' font-weight="normal" font-size="13.75" fill="#1030ff" textLength="17.04" lengthAdjust="spacingAndGlyphs">P2</text>
<text x="87" y="185.67" font-family='"Liberation Sans", sans-serif' font-weight="normal" font-size="14.59" fill="#3a3a3a" textLength="17.21" lengthAdjust="spacingAndGlyphs">[a]</text>
<text x="408.4" y="20.26" font-family='"Liberation Sans", sans-serif' font-weight="bold" font-size="13.98" fill="#000" textLength="18.17" lengthAdjust="spacingAndGlyphs" stroke="#000" stroke-width="0.3">60</text>
<text x="408.94" y="65.44" font-family='"Liberation Sans", sans-serif' font-weight="bold" font-size="14.09" fill="#000" textLength="17.4" lengthAdjust="spacingAndGlyphs" stroke="#000" stroke-width="0.3">30</text>
<text x="419.13" y="111.26" font-family='"Liberation Sans", sans-serif' font-weight="bold" font-size="14.41" fill="#000" textLength="9.47" lengthAdjust="spacingAndGlyphs" stroke="#000" stroke-width="0.3">0</text>
<text x="402.78" y="156.64" font-family='"Liberation Sans", sans-serif' font-weight="bold" font-size="14.09" fill="#000" textLength="23.08" lengthAdjust="spacingAndGlyphs" stroke="#000" stroke-width="0.3">-30</text>
<text x="402.78" y="201.86" font-family='"Liberation Sans", sans-serif' font-weight="bold" font-size="14.12" fill="#000" textLength="23.08" lengthAdjust="spacingAndGlyphs" stroke="#000" stroke-width="0.3">-60</text>
<text x="420.84" y="217.04" font-family='"Liberation Sans", sans-serif' font-weight="bold" font-size="14.66" fill="#000" textLength="25.89" lengthAdjust="spacingAndGlyphs" stroke="#000" stroke-width="0.3">300</text>
<text x="486.03" y="217.04" font-family='"Liberation Sans", sans-serif' font-weight="bold" font-size="14.66" fill="#000" textLength="27.14" lengthAdjust="spacingAndGlyphs" stroke="#000" stroke-width="0.3">350</text>
<text x="552.97" y="217.06" font-family='"Liberation Sans", sans-serif' font-weight="bold" font-size="14.69" fill="#000" textLength="25.35" lengthAdjust="spacingAndGlyphs" stroke="#000" stroke-width="0.3">400</text>
<text x="618.07" y="217.06" font-family='"Liberation Sans", sans-serif' font-weight="bold" font-size="14.69" fill="#000" textLength="24.94" lengthAdjust="spacingAndGlyphs" stroke="#000" stroke-width="0.3">450</text>
<text x="683.32" y="217.06" font-family='"Liberation Sans", sans-serif' font-weight="bold" font-size="14.69" fill="#000" textLength="25.81" lengthAdjust="spacingAndGlyphs" stroke="#000" stroke-width="0.3">500</text>
<text x="545.5" y="241.4" font-family='"Liberation Sans", sans-serif' font-weight="bold" font-size="15.5" fill="#000" textLength="36.34" lengthAdjust="spacingAndGlyphs" stroke="#000" stroke-width="0.3">t (fs)</text>
<text transform="rotate(-90)" x="-132.99" y="387.6" font-family='"Liberation Sans", sans-serif' font-weight="bold" font-size="16" fill="#000" stroke="#000" stroke-width="0.3" textLength="11.72" lengthAdjust="spacingAndGlyphs">B</text>
<text transform="rotate(-90)" x="-120.39" y="395.4" font-family='"Liberation Sans", sans-serif' font-weight="bold" font-size="12" fill="#000" stroke="#000" stroke-width="0.3" textLength="7.31" lengthAdjust="spacingAndGlyphs">z</text>
<text transform="rotate(-90)" x="-106.52" y="387.6" font-family='"Liberation Sans", sans-serif' font-weight="bold" font-size="16" fill="#000" stroke="#000" stroke-width="0.3" textLength="21.15" lengthAdjust="spacingAndGlyphs">(T)</text>
<polyline points="636.4,29.2 658.9,29.2" fill="none" stroke="#D95319" stroke-width="2.2" stroke-linejoin="round"/>
<polyline points="636.4,44.1 658.9,44.1" fill="none" stroke="#0072BD" stroke-width="2.2" stroke-linejoin="round"/>
<text x="666.07" y="32.78" font-family='"Liberation Sans", sans-serif' font-weight="normal" font-size="12.29" fill="#E8712E" textLength="16.83" lengthAdjust="spacingAndGlyphs">P3</text>
<text x="666.06" y="48.7" font-family='"Liberation Sans", sans-serif' font-weight="normal" font-size="12.79" fill="#2F66C8" textLength="16.94" lengthAdjust="spacingAndGlyphs">P4</text>
<text x="450.64" y="185.91" font-family='"Liberation Sans", sans-serif' font-weight="normal" font-size="14.91" fill="#3a3a3a" textLength="18.12" lengthAdjust="spacingAndGlyphs">[b]</text>
<text x="55.43" y="300.44" font-family='"Liberation Sans", sans-serif' font-weight="bold" font-size="14.66" fill="#000" textLength="8.95" lengthAdjust="spacingAndGlyphs" stroke="#000" stroke-width="0.3">3</text>
<text x="55.22" y="359.4" font-family='"Liberation Sans", sans-serif' font-weight="bold" font-size="15.04" fill="#000" textLength="9.24" lengthAdjust="spacingAndGlyphs" stroke="#000" stroke-width="0.3">2</text>
<text x="55.96" y="417.4" font-family='"Liberation Sans", sans-serif' font-weight="bold" font-size="15.12" fill="#000" textLength="7.41" lengthAdjust="spacingAndGlyphs" stroke="#000" stroke-width="0.3">1</text>
<text x="55.13" y="475.06" font-family='"Liberation Sans", sans-serif' font-weight="bold" font-size="14.41" fill="#000" textLength="9.36" lengthAdjust="spacingAndGlyphs" stroke="#000" stroke-width="0.3">0</text>
<text x="66.88" y="490.46" font-family='"Liberation Sans", sans-serif' font-weight="bold" font-size="14.41" fill="#000" textLength="8.77" lengthAdjust="spacingAndGlyphs" stroke="#000" stroke-width="0.3">0</text>
<text x="187.61" y="490.46" font-family='"Liberation Sans", sans-serif' font-weight="bold" font-size="14.41" fill="#000" textLength="26.54" lengthAdjust="spacingAndGlyphs" stroke="#000" stroke-width="0.3">500</text>
<text x="314.03" y="490.46" font-family='"Liberation Sans", sans-serif' font-weight="bold" font-size="14.41" fill="#000" textLength="34.09" lengthAdjust="spacingAndGlyphs" stroke="#000" stroke-width="0.3">1000</text>
<text x="172.31" y="511.2" font-family='"Liberation Sans", sans-serif' font-weight="bold" font-size="15.5" fill="#000" textLength="52.43" lengthAdjust="spacingAndGlyphs" stroke="#000" stroke-width="0.3">f (THz)</text>
<text x="73.55" y="286.62" font-family='"Liberation Sans", sans-serif' font-weight="normal" font-size="16.58" fill="#000" textLength="11.4" lengthAdjust="spacingAndGlyphs" stroke="#000" stroke-width="0.2">×</text>
<text x="86.03" y="284.95" font-family='"Liberation Sans", sans-serif' font-weight="normal" font-size="15.11" fill="#000" textLength="17.07" lengthAdjust="spacingAndGlyphs" stroke="#000" stroke-width="0.55">10</text>
<text x="108.51" y="277.59" font-family='"Liberation Sans", sans-serif' font-weight="normal" font-size="11.61" fill="#000" textLength="6.8" lengthAdjust="spacingAndGlyphs" stroke="#000" stroke-width="0.5">5</text>
<text transform="rotate(-90)" x="-407.41" y="38.6" font-family='"Liberation Sans", sans-serif' font-weight="bold" font-size="15.5" fill="#000" stroke="#000" stroke-width="0.3" textLength="39.51" lengthAdjust="spacingAndGlyphs">IFFTI</text>
<text transform="rotate(-90)" x="-360.48" y="31.6" font-family='"Liberation Sans", sans-serif' font-weight="bold" font-size="12.5" fill="#000" stroke="#000" stroke-width="0.3" textLength="7.62" lengthAdjust="spacingAndGlyphs">2</text>
<text x="87.02" y="308.37" font-family='"Liberation Sans", sans-serif' font-weight="normal" font-size="14.59" fill="#3a3a3a" textLength="17.46" lengthAdjust="spacingAndGlyphs">[c]</text>
<text x="387.43" y="294.46" font-family='"Liberation Sans", sans-serif' font-weight="bold" font-size="14.69" fill="#000" textLength="34.82" lengthAdjust="spacingAndGlyphs" stroke="#000" stroke-width="0.3">6000</text>
<text x="387.77" y="354.66" font-family='"Liberation Sans", sans-serif' font-weight="bold" font-size="14.69" fill="#000" textLength="34.47" lengthAdjust="spacingAndGlyphs" stroke="#000" stroke-width="0.3">4000</text>
<text x="387.46" y="414.66" font-family='"Liberation Sans", sans-serif' font-weight="bold" font-size="14.69" fill="#000" textLength="34.78" lengthAdjust="spacingAndGlyphs" stroke="#000" stroke-width="0.3">2000</text>
<text x="419.33" y="475.06" font-family='"Liberation Sans", sans-serif' font-weight="bold" font-size="14.41" fill="#000" textLength="9.36" lengthAdjust="spacingAndGlyphs" stroke="#000" stroke-width="0.3">0</text>
<text x="429.53" y="490.46" font-family='"Liberation Sans", sans-serif' font-weight="bold" font-size="14.41" fill="#000" textLength="9.47" lengthAdjust="spacingAndGlyphs" stroke="#000" stroke-width="0.3">0</text>
<text x="492.07" y="490.46" font-family='"Liberation Sans", sans-serif' font-weight="bold" font-size="14.41" fill="#000" textLength="17.06" lengthAdjust="spacingAndGlyphs" stroke="#000" stroke-width="0.3">20</text>
<text x="557.57" y="490.46" font-family='"Liberation Sans", sans-serif' font-weight="bold" font-size="14.41" fill="#000" textLength="17.17" lengthAdjust="spacingAndGlyphs" stroke="#000" stroke-width="0.3">40</text>
<text x="622.92" y="490.46" font-family='"Liberation Sans", sans-serif' font-weight="bold" font-size="14.41" fill="#000" textLength="17.52" lengthAdjust="spacingAndGlyphs" stroke="#000" stroke-width="0.3">60</text>
<text x="688.82" y="490.46" font-family='"Liberation Sans", sans-serif' font-weight="bold" font-size="14.41" fill="#000" textLength="16.69" lengthAdjust="spacingAndGlyphs" stroke="#000" stroke-width="0.3">80</text>
<text x="537.92" y="511.2" font-family='"Liberation Sans", sans-serif' font-weight="bold" font-size="15.5" fill="#000" textLength="50.89" lengthAdjust="spacingAndGlyphs" stroke="#000" stroke-width="0.3">f (THz)</text>
<text transform="rotate(-90)" x="-403.1" y="376.4" font-family='"Liberation Sans", sans-serif' font-weight="bold" font-size="15.5" fill="#000" stroke="#000" stroke-width="0.3" textLength="39.2" lengthAdjust="spacingAndGlyphs">IFFTI</text>
<text transform="rotate(-90)" x="-355.35" y="369.7" font-family='"Liberation Sans", sans-serif' font-weight="bold" font-size="12.3" fill="#000" stroke="#000" stroke-width="0.3" textLength="7.28" lengthAdjust="spacingAndGlyphs">2</text>
<text x="450.39" y="308.65" font-family='"Liberation Sans", sans-serif' font-weight="normal" font-size="13.73" fill="#3a3a3a" textLength="18.81" lengthAdjust="spacingAndGlyphs">[d]</text>
<text x="84.21" y="449.6" font-family='"Liberation Serif", serif' font-weight="normal" font-size="14.06" fill="#111" textLength="5.29" lengthAdjust="spacingAndGlyphs" stroke="#111" stroke-width="0.25">f</text>
<text x="88.3" y="452.93" font-family='"Liberation Serif", serif' font-weight="normal" font-size="11.14" fill="#111" textLength="4.54" lengthAdjust="spacingAndGlyphs" stroke="#111" stroke-width="0.25">(</text>
<text x="93.09" y="451.81" font-family='"Liberation Serif", serif' font-weight="normal" font-size="9.2" fill="#111" textLength="6.92" lengthAdjust="spacingAndGlyphs" stroke="#111" stroke-width="0.3">ω</text>
<text x="99.8" y="454.3" font-family='"Liberation Serif", serif' font-weight="normal" font-size="7.42" fill="#111" textLength="4.64" lengthAdjust="spacingAndGlyphs" stroke="#111" stroke-width="0.35">1</text>
<rect x="105.4" y="449.1" width="8.4" height="1.1" fill="#222"/>
<text x="114.67" y="451.81" font-family='"Liberation Serif", serif' font-weight="normal" font-size="9.2" fill="#111" textLength="7.26" lengthAdjust="spacingAndGlyphs" stroke="#111" stroke-width="0.3">ω</text>
<text x="122.34" y="454.3" font-family='"Liberation Serif", serif' font-weight="normal" font-size="7.4" fill="#111" textLength="4.63" lengthAdjust="spacingAndGlyphs" stroke="#111" stroke-width="0.35">2</text>
<text x="129.87" y="452.93" font-family='"Liberation Serif", serif' font-weight="normal" font-size="11.14" fill="#111" textLength="4.41" lengthAdjust="spacingAndGlyphs" stroke="#111" stroke-width="0.25">)</text>
<text x="230.28" y="316.5" font-family='"Liberation Serif", serif' font-weight="normal" font-size="13.21" fill="#111" textLength="5.62" lengthAdjust="spacingAndGlyphs" stroke="#111" stroke-width="0.25">f</text>
<text x="234.22" y="320.11" font-family='"Liberation Serif", serif' font-weight="normal" font-size="11.25" fill="#111" textLength="4.41" lengthAdjust="spacingAndGlyphs" stroke="#111" stroke-width="0.25">(</text>
<text x="239.05" y="319.9" font-family='"Liberation Serif", serif' font-weight="normal" font-size="8.91" fill="#111" textLength="6.24" lengthAdjust="spacingAndGlyphs" stroke="#111" stroke-width="0.25">2</text>
<text x="245.5" y="319.81" font-family='"Liberation Serif", serif' font-weight="normal" font-size="9.2" fill="#111" textLength="8.4" lengthAdjust="spacingAndGlyphs" stroke="#111" stroke-width="0.3">ω</text>
<text x="253.6" y="321.8" font-family='"Liberation Serif", serif' font-weight="normal" font-size="6.67" fill="#111" textLength="4.17" lengthAdjust="spacingAndGlyphs" stroke="#111" stroke-width="0.35">1</text>
<text x="259.47" y="320.11" font-family='"Liberation Serif", serif' font-weight="normal" font-size="11.25" fill="#111" textLength="4.41" lengthAdjust="spacingAndGlyphs" stroke="#111" stroke-width="0.25">)</text>
<text x="289.61" y="336.7" font-family='"Liberation Serif", serif' font-weight="normal" font-size="14.49" fill="#111" textLength="5.29" lengthAdjust="spacingAndGlyphs" stroke="#111" stroke-width="0.25">f</text>
<text x="293.42" y="339.7" font-family='"Liberation Serif", serif' font-weight="normal" font-size="10.81" fill="#111" textLength="4.41" lengthAdjust="spacingAndGlyphs" stroke="#111" stroke-width="0.25">(</text>
<text x="298.24" y="339.5" font-family='"Liberation Serif", serif' font-weight="normal" font-size="8.16" fill="#111" textLength="6.36" lengthAdjust="spacingAndGlyphs" stroke="#111" stroke-width="0.25">2</text>
<text x="304.78" y="339.41" font-family='"Liberation Serif", serif' font-weight="normal" font-size="8.78" fill="#111" textLength="8.74" lengthAdjust="spacingAndGlyphs" stroke="#111" stroke-width="0.3">ω</text>
<text x="314.17" y="341.6" font-family='"Liberation Serif", serif' font-weight="normal" font-size="6.65" fill="#111" textLength="4.15" lengthAdjust="spacingAndGlyphs" stroke="#111" stroke-width="0.35">2</text>
<text x="319.27" y="339.7" font-family='"Liberation Serif", serif' font-weight="normal" font-size="10.81" fill="#111" textLength="4.41" lengthAdjust="spacingAndGlyphs" stroke="#111" stroke-width="0.25">)</text>
<text x="193.28" y="367.8" font-family='"Liberation Serif", serif' font-weight="normal" font-size="14.34" fill="#111" textLength="5.62" lengthAdjust="spacingAndGlyphs" stroke="#111" stroke-width="0.25">f</text>
<text x="197.94" y="370.93" font-family='"Liberation Serif", serif' font-weight="normal" font-size="11.14" fill="#111" textLength="4.28" lengthAdjust="spacingAndGlyphs" stroke="#111" stroke-width="0.25">(</text>
<text x="202.28" y="370.41" font-family='"Liberation Serif", serif' font-weight="normal" font-size="8.78" fill="#111" textLength="7.15" lengthAdjust="spacingAndGlyphs" stroke="#111" stroke-width="0.3">ω</text>
<text x="209.45" y="373" font-family='"Liberation Serif", serif' font-weight="normal" font-size="7.42" fill="#111" textLength="4.64" lengthAdjust="spacingAndGlyphs" stroke="#111" stroke-width="0.35">1</text>
<text x="214.77" y="372.37" font-family='"Liberation Serif", serif' font-weight="normal" font-size="11.81" fill="#111" textLength="7.15" lengthAdjust="spacingAndGlyphs" stroke="#111" stroke-width="0.25">+</text>
<text x="224.24" y="370.41" font-family='"Liberation Serif", serif' font-weight="normal" font-size="8.78" fill="#111" textLength="7.72" lengthAdjust="spacingAndGlyphs" stroke="#111" stroke-width="0.3">ω</text>
<text x="232.14" y="373" font-family='"Liberation Serif", serif' font-weight="normal" font-size="7.4" fill="#111" textLength="4.63" lengthAdjust="spacingAndGlyphs" stroke="#111" stroke-width="0.35">2</text>
<text x="239.07" y="370.93" font-family='"Liberation Serif", serif' font-weight="normal" font-size="11.14" fill="#111" textLength="4.41" lengthAdjust="spacingAndGlyphs" stroke="#111" stroke-width="0.25">)</text>
<line x1="278.7" y1="387.2" x2="252.5" y2="374.8" stroke="#111" stroke-width="1.1"/>
<polygon points="246.6,372 256.2,371.8 253.2,378.2" fill="#111"/>
<text x="545.78" y="318.8" font-family='"Liberation Serif", serif' font-weight="normal" font-size="15.2" fill="#111" textLength="5.62" lengthAdjust="spacingAndGlyphs" stroke="#111" stroke-width="0.25">f</text>
<text x="550.74" y="321.27" font-family='"Liberation Serif", serif' font-weight="normal" font-size="10.48" fill="#111" textLength="20.41" lengthAdjust="spacingAndGlyphs" stroke="#111" stroke-width="0.25">(Δω)</text>
<text x="571.66" y="320.36" font-family='"Liberation Serif", serif' font-weight="normal" font-size="20.24" fill="#111" textLength="10.5" lengthAdjust="spacingAndGlyphs" stroke="#111" stroke-width="0.1">~</text>
<text x="582.18" y="318.67" font-family='"Liberation Serif", serif' font-weight="normal" font-size="13.63" fill="#111" textLength="42.05" lengthAdjust="spacingAndGlyphs" stroke="#111" stroke-width="0.25">30THz</text>
<text x="634.61" y="373.5" font-family='"Liberation Serif", serif' font-weight="normal" font-size="14.2" fill="#111" textLength="7.86" lengthAdjust="spacingAndGlyphs" stroke="#111" stroke-width="0.25">2</text>
<text x="643.05" y="373.71" font-family='"Liberation Serif", serif' font-weight="normal" font-size="15.44" fill="#111" textLength="5.7" lengthAdjust="spacingAndGlyphs" stroke="#111" stroke-width="0.25">(</text>
<text x="648.81" y="373.5" font-family='"Liberation Serif", serif' font-weight="normal" font-size="14.06" fill="#111" textLength="6.39" lengthAdjust="spacingAndGlyphs" stroke="#111" stroke-width="0.25">f</text>
<text x="653.96" y="376.49" font-family='"Liberation Serif", serif' font-weight="normal" font-size="9.93" fill="#111" textLength="19.89" lengthAdjust="spacingAndGlyphs" stroke="#111" stroke-width="0.25">(Δω)</text>
<text x="674.41" y="373.71" font-family='"Liberation Serif", serif' font-weight="normal" font-size="15.44" fill="#111" textLength="6.09" lengthAdjust="spacingAndGlyphs" stroke="#111" stroke-width="0.25">)</text></svg>
</body></html>
